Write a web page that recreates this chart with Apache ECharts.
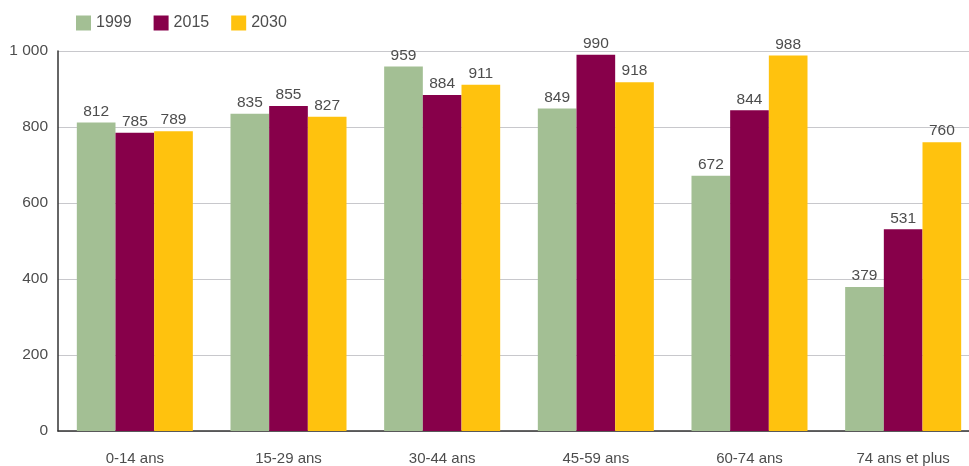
<!DOCTYPE html>
<html>
<head>
<meta charset="utf-8">
<script src="https://cdn.jsdelivr.net/npm/echarts@6/dist/echarts.min.js"></script>
<style>
html,body{margin:0;padding:0;background:#fff;overflow:hidden}
/* the chart canvas is a little wider than the page; the plot runs past the right edge */
#c{width:980px;height:466px}
</style>
</head>
<body>
<div id="c"></div>
<script>
const categories = ['0-14 ans', '15-29 ans', '30-44 ans', '45-59 ans', '60-74 ans', '74 ans et plus'];
const seriesNames = ['1999', '2015', '2030'];
const values1999 = [812, 835, 959, 849, 672, 379];
const values2015 = [785, 855, 884, 990, 844, 531];
const values2030 = [789, 827, 911, 918, 988, 760];
const colors = ['#a3bf94', '#87004a', '#ffc20e'];

const font = 'Liberation Sans, Arial, sans-serif';
const textColor = '#4d4d4d';

function fmt(v) {
  return String(v).replace(/\B(?=(\d{3})+(?!\d))/g, ' ');
}

const chart = echarts.init(document.getElementById('c'), null, { renderer: 'canvas' });
chart.setOption({
  animation: false,
  color: colors,
  legend: {
    top: 15,
    left: 76,
    padding: 0,
    itemWidth: 15,
    itemHeight: 15,
    itemGap: 22,
    icon: 'rect',
    textStyle: { fontFamily: font, fontSize: 16, color: textColor }
  },
  grid: { left: 58, right: 0, top: 51, bottom: 35, containLabel: false },
  xAxis: {
    type: 'category',
    data: categories,
    axisTick: { show: false },
    axisLine: { lineStyle: { color: '#333', width: 1.5 } },
    axisLabel: { fontFamily: font, fontSize: 15, color: textColor, margin: 20 }
  },
  yAxis: {
    type: 'value',
    min: 0,
    max: 1000,
    interval: 200,
    axisLine: { show: true, lineStyle: { color: '#333', width: 1.5 } },
    axisTick: { show: false },
    splitLine: { lineStyle: { color: '#c8c8cc', width: 1 } },
    axisLabel: { fontFamily: font, fontSize: 15.5, color: textColor, margin: 10, formatter: fmt }
  },
  series: [values1999, values2015, values2030].map((d, i) => ({
    name: seriesNames[i],
    type: 'bar',
    data: d,
    barGap: '0%',
    barCategoryGap: '24.5%',
    label: {
      show: true,
      position: 'top',
      distance: 3,
      fontFamily: font,
      fontSize: 15.5,
      color: textColor,
      formatter: p => fmt(p.value)
    }
  }))
});
</script>
</body>
</html>
